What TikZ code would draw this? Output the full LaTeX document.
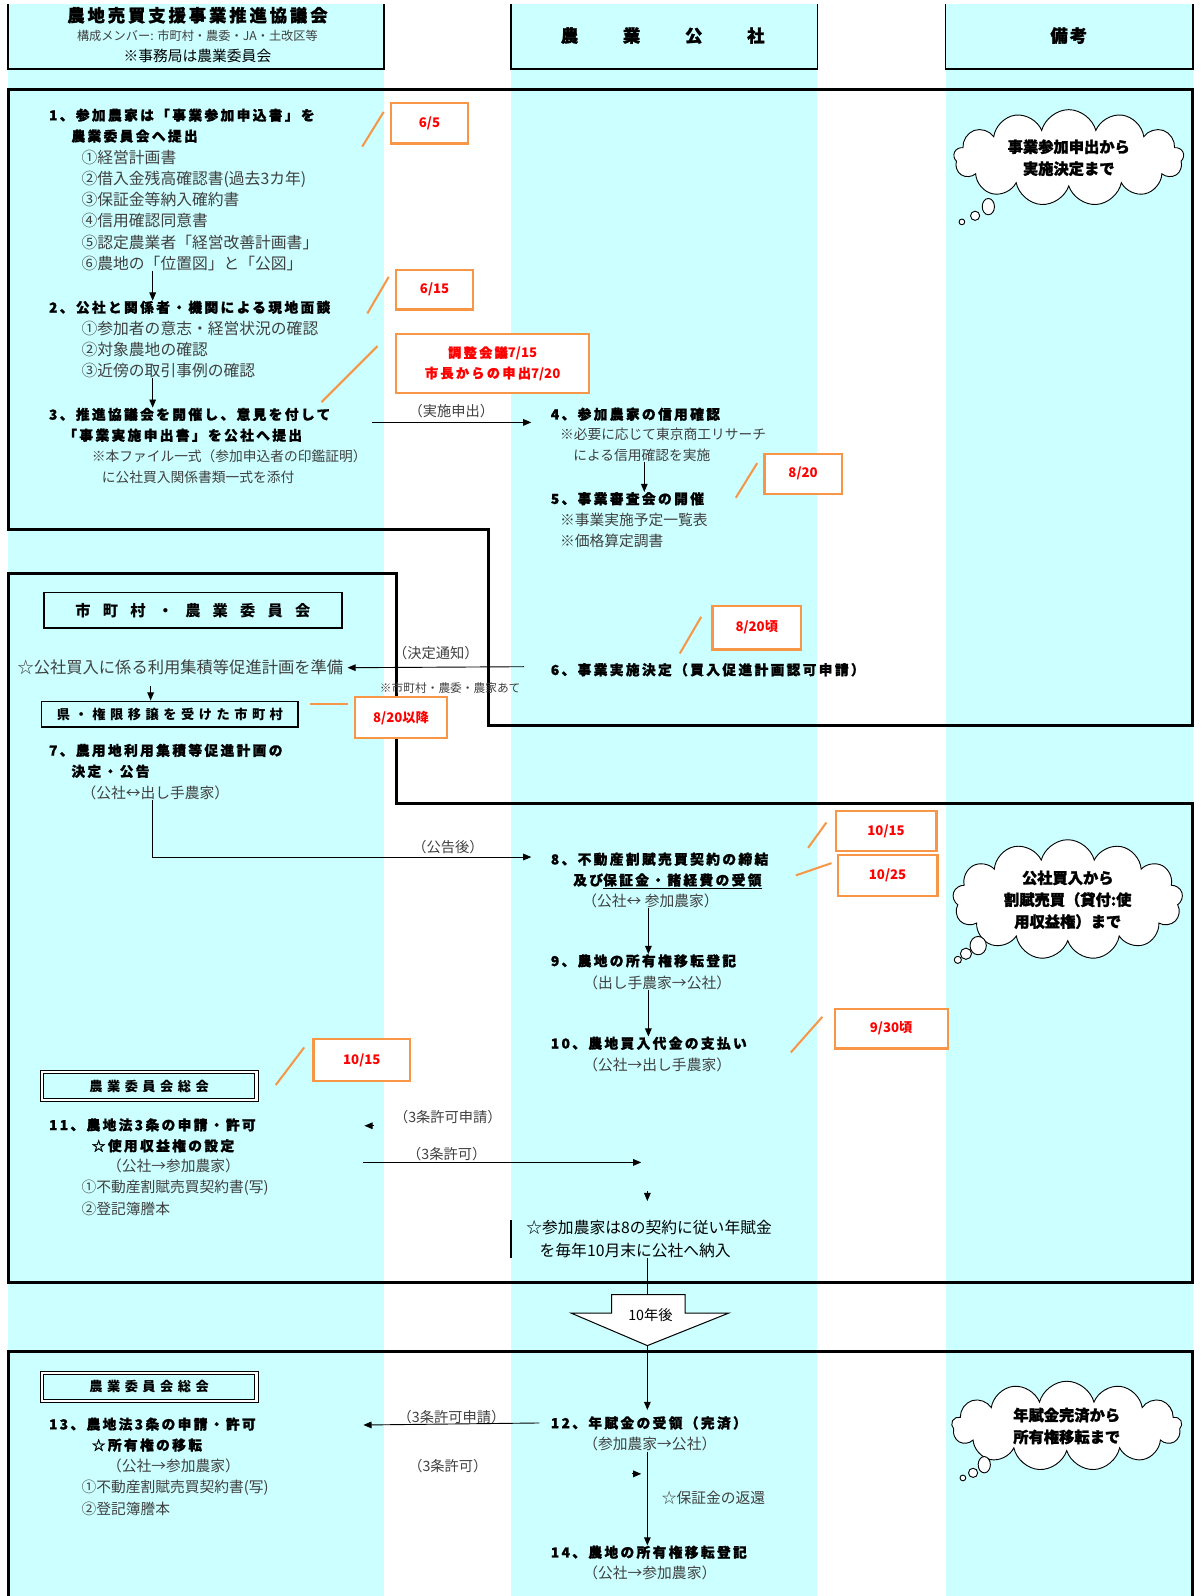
\documentclass[tikz,border=0pt]{standalone}
\usepackage{fontspec}
\setmainfont{Noto Sans CJK JP}
\newfontfamily\jpsp[LetterSpace=17, BoldFeatures={FakeBold=1.2}]{Noto Sans CJK JP}
\newfontfamily\jpmid[LetterSpace=34]{Noto Sans CJK JP}
\newfontfamily\jpwide[LetterSpace=80]{Noto Sans CJK JP}
\newfontfamily\jpheavy[BoldFeatures={FakeBold=1.5}]{Noto Sans CJK JP}
\usetikzlibrary{arrows.meta, positioning, shapes.symbols}
\definecolor{lane}{HTML}{CCFFFF}
\definecolor{dateorange}{HTML}{F79646}
\definecolor{txtgrey}{HTML}{404040}

\begin{document}
\begin{tikzpicture}[x=1pt, y=-1pt,
  frame/.style={line width=3pt},
  hd/.style={anchor=north west, inner sep=0pt, align=left,
             font=\jpsp\bfseries\fontsize{13.5}{20.5}\selectfont},
  hdl/.style={hd, anchor=west},
  sub/.style={anchor=north west, inner sep=0pt, align=left, text=txtgrey,
              font=\fontsize{15.5}{20.8}\selectfont},
  small/.style={sub, font=\fontsize{13.5}{20}\selectfont},
  party/.style={anchor=west, inner sep=0pt, text=txtgrey, font=\fontsize{14.5}{17}\selectfont},
  lbl/.style={inner sep=0pt, text=txtgrey, font=\fontsize{14}{16}\selectfont},
  datebox/.style={draw=dateorange, line width=2.2pt, fill=white, text=red,
                  font=\bfseries\fontsize{13}{20}\selectfont, align=center},
  lead/.style={draw=dateorange, line width=2pt},
  arr/.style={-{Triangle[length=8pt,width=6.5pt]}, line width=0.9pt},
  board/.style={draw, line width=1.5pt, inner sep=0pt},
  think/.style={cloud, draw, line width=0.9pt, fill=white, cloud puffs=13,
                aspect=2.6, align=center, inner sep=0pt,
                font=\jpheavy\bfseries\fontsize{15}{21.5}\selectfont},
  bubble/.style={draw, line width=0.9pt, fill=white}
]
\useasboundingbox (0,0) rectangle (1181,1568);

% lanes
\fill[lane] (8,4) rectangle (377,1568);
\fill[lane] (502,4) rectangle (803,1568);
\fill[lane] (929,4) rectangle (1172,1568);

% column heads
\draw[line width=1.5pt] (8,4) -- (8,68) -- (377,68) -- (377,4);
\draw[line width=1.5pt] (502,4) -- (502,68) -- (803,68) -- (803,4);
\draw[line width=1.5pt] (929,4) -- (929,68) -- (1172,68) -- (1172,4);
\node[font=\jpsp\bfseries\fontsize{17}{19}\selectfont] (council) at (194,15) {農地売買支援事業推進協議会};
\node[text=txtgrey, font=\fontsize{12}{14}\selectfont] (members) at (194,35) {構成メンバー: 市町村・農委・JA・土改区等};
\node[font=\fontsize{14.5}{16}\selectfont] (office) at (194,55) {※事務局は農業委員会};
\node[font=\jpheavy\bfseries\fontsize{17}{19}\selectfont] (corp) at (651,35) {農\hspace{44pt}業\hspace{44pt}公\hspace{44pt}社};
\node[font=\jpheavy\bfseries\fontsize{17}{19}\selectfont] (remarks) at (1050,35) {備\hspace{2pt}考};

% frames
\draw[frame] (8,88) -- (1172,88) -- (1172,713) -- (480,713) -- (480,520) -- (8,520) -- cycle;
\draw[frame] (8,563) -- (390,563) -- (390,789) -- (1172,789) -- (1172,1260) -- (8,1260) -- cycle;
\draw[frame] (8,1568) -- (8,1328) -- (1172,1328) -- (1172,1568);

% application to decision
\node[hd] (step1) at (48,106.5) {1、参加農家は「事業参加申込書」を\\\hspace*{22pt}農業委員会へ提出};
\node[sub] (docs1) at (80,147.2) {①経営計画書\\②借入金残高確認書(過去3カ年)\\③保証金等納入確約書\\④信用確認同意書\\⑤認定農業者「経営改善計画書」\\⑥農地の「位置図」と「公図」};
\node[hdl] (step2) at (48,302) {2、公社と関係者・機関による現地面談};
\node[sub] (docs2) at (80,315.2) {①参加者の意志・経営状況の確認\\②対象農地の確認\\③近傍の取引事例の確認};
\node[hd] (step3) at (48,400.5) {3、推進協議会を開催し、意見を付して\\\hspace*{14pt}「事業実施申出書」を公社へ提出};
\node[small] (file3) at (90,442) {※本ファイル一式（参加申込者の印鑑証明）\\\hspace*{10pt}に公社買入関係書類一式を添付};
\draw[arr] ([xshift=70pt]docs1.south west) -- ([xshift=102pt]step2.north west);
\draw[arr] ([xshift=70pt]docs2.south west) -- ([xshift=102pt]step3.north west);

\node[hdl] (step4) at (541,407) {4、参加農家の信用確認};
\node[small] (check4) at (550,420.5) {※必要に応じて東京商工リサーチ\\\hspace*{13pt}による信用確認を実施};
\node[hdl] (step5) at (541,490) {5、事業審査会の開催};
\node[sub, font=\fontsize{14.5}{21}\selectfont] (list5) at (550,504) {※事業実施予定一覧表\\※価格算定調書};
\draw[arr] ([xshift=83pt]check4.south west) -- ([xshift=92pt]step5.north west);

\coordinate (apply3) at (365,415);
\coordinate (into4) at (522,415);
\draw[arr] (apply3) -- node[above=4pt, lbl]{（実施申出）} (into4);

% city and committee
\node[board, minimum width=293pt, minimum height=35pt,
      font=\jpwide\bfseries\fontsize{15}{17}\selectfont] (city) at (189.5,599.5) {市町村・農業委員会};
\node[anchor=west, inner sep=0pt, text=txtgrey, font=\fontsize{16}{18}\selectfont] (plan) at (17,656) {☆公社買入に係る利用集積等促進計画を準備};
\node[board, minimum width=252pt, minimum height=25pt,
      font=\jpmid\bfseries\fontsize{13}{15}\selectfont] (pref) at (167,701.5) {県・権限移譲を受けた市町村};
\draw[arr, shorten <=10pt] ([xshift=131pt]plan.south west) -- ([xshift=-19pt]pref.north);

\node[hdl] (step6) at (541,658) {6、事業実施決定（買入促進計画認可申請）};
\coordinate (decide6) at (515,655);
\draw[arr] (decide6) -- node[above=7pt, lbl]{（決定通知）}
  node[below=15pt, xshift=14pt, lbl, font=\fontsize{11.5}{13}\selectfont]{※市町村・農委・農家あて} ([xshift=4pt]plan.east);

\node[hd] (step7) at (48,730.5) {7、農用地利用集積等促進計画の\\\hspace*{22pt}決定・公告};
\node[party] (party7) at (80,779) {（公社↔出し手農家）};

\node[hd] (step8) at (541,837.5) {8、不動産割賦売買契約の締結\\\hspace*{22pt}及び\underline{保証金・諸経費の受領}};
\node[party] (party8) at (572,885) {（公社↔ 参加農家）};
\coordinate (into8) at (522,842);
\draw[arr] ([xshift=70pt]party7.south west) |- node[pos=0.89, above=3pt, lbl]{（公告後）} (into8);

\node[hdl] (step9) at (541,944) {9、農地の所有権移転登記};
\node[party] (party9) at (573,966) {（出し手農家→公社）};
\node[hdl] (step10) at (541,1025) {10、農地買入代金の支払い};
\node[party] (party10) at (573,1046) {（公社→出し手農家）};
\draw[arr] ([xshift=65pt]party8.south west) -- ([xshift=96pt]step9.north west);
\draw[arr] ([xshift=64pt]party9.south west) -- ([xshift=96pt]step10.north west);

\node[board, double, double distance=2pt, line width=1pt, minimum width=211pt, minimum height=28pt,
      font=\jpmid\bfseries\fontsize{13}{15}\selectfont] (general1) at (146.5,1067) {農業委員会総会};
\node[hd] (step11) at (48,1098.5) {11、農地法3条の申請・許可\\\hspace*{42pt}☆使用収益権の設定};
\node[party] (party11) at (105,1145) {（公社→参加農家）};
\node[sub, font=\fontsize{14.5}{21.5}\selectfont] (docs11) at (80,1159) {①不動産割賦売買契約書(写)\\②登記簿謄本};

\coordinate (req11) at (367,1106);
\draw[arr] (req11) -- ++(-9,0);
\node[lbl] (req11l) at (440,1097) {（3条許可申請）};
\coordinate (perm11) at (357,1142);
\coordinate (perm11e) at (630,1142);
\draw[arr] (perm11) -- node[pos=0.3, above=1pt, lbl]{（3条許可）} (perm11e);

\coordinate (pay0) at (636,1170);
\draw[arr] (pay0) -- ++(0,10);
\node[anchor=north west, inner sep=0pt, align=left, font=\fontsize{15.5}{22}\selectfont] (annual) at (517,1199) {☆参加農家は8の契約に従い年賦金\\\hspace*{13pt}を毎年10月末に公社へ納入};
\draw[line width=1.5pt] ([xshift=-15pt]annual.north west) -- ([xshift=-15pt]annual.south west);

% ten years later
\draw[line width=1pt, fill=white] (601,1272) -- (673,1272) -- (673,1290) -- (716,1290) -- (636,1322) -- (561,1290) -- (601,1290) -- cycle;
\node[font=\fontsize{14}{16}\selectfont] (tenyr) at (639,1292) {10年後};
\coordinate (bigtop) at (636,1272);
\coordinate (bigtip) at (636,1322);
\draw[line width=0.9pt] ([xshift=119pt]annual.south west) -- (bigtop);

% completion
\node[board, double, double distance=2pt, line width=1pt, minimum width=211pt, minimum height=28pt,
      font=\jpmid\bfseries\fontsize{13}{15}\selectfont] (general2) at (146.5,1362.5) {農業委員会総会};
\node[hd] (step13) at (48,1392.5) {13、農地法3条の申請・許可\\\hspace*{42pt}☆所有権の移転};
\node[party] (party13) at (105,1440) {（公社→参加農家）};
\node[sub, font=\fontsize{14.5}{21.5}\selectfont] (docs13) at (80,1454) {①不動産割賦売買契約書(写)\\②登記簿謄本};

\node[hdl] (step12) at (541,1398) {12、年賦金の受領（完済）};
\node[party] (party12) at (573,1419) {（参加農家→公社）};
\draw[arr, shorten >=6pt] (bigtip) -- ([xshift=95pt]step12.north west);
\coordinate (req13) at (357,1400);
\draw[arr] ([xshift=-11pt]step12.west) -- node[above=0pt, lbl]{（3条許可申請）} (req13);
\node[lbl] (perm13) at (440,1440) {（3条許可）};

\coordinate (ret0) at (621,1448);
\draw[arr] (ret0) -- ++(9,0);
\node[hdl] (step14) at (541,1525) {14、農地の所有権移転登記};
\node[party] (party14) at (573,1545) {（公社→参加農家）};
\draw[arr] ([xshift=63pt]party12.south west) -- ([xshift=95pt]step14.north west);
\node[party] (refund) at (650,1472) {☆保証金の返還};

% dates
\node[datebox, minimum width=76pt, minimum height=40pt] (d65) at (422,121) {6/5};
\node[datebox, minimum width=76pt, minimum height=39pt] (d615) at (427,284.5) {6/15};
\node[datebox, minimum width=190pt, minimum height=58pt] (d715) at (484,357) {{\jpsp 調整会議}7/15\\{\jpsp 市長からの申出}7/20};
\node[datebox, minimum width=76pt, minimum height=39pt] (d820) at (789,465.5) {8/20};
\node[datebox, minimum width=87pt, minimum height=43pt] (d820a) at (743.5,616.5) {8/20頃};
\node[datebox, minimum width=90pt, minimum height=40pt] (d820b) at (394,705) {8/20以降};
\node[datebox, minimum width=99pt, minimum height=39pt] (d1015) at (870.5,816.5) {10/15};
\node[datebox, minimum width=98pt, minimum height=40pt] (d1025) at (872,860) {10/25};
\node[datebox, minimum width=111pt, minimum height=39pt] (d930) at (875.5,1010.5) {9/30頃};
\node[datebox, minimum width=95pt, minimum height=41pt] (d1015b) at (355.5,1041.5) {10/15};
\draw[lead] (d65.west) ++(-6,-11) -- ++(-21,34);
\draw[lead] (d615.west) ++(-6,-12.5) -- ++(-21,36);
\draw[lead] (d715.west) ++(-17,-17) -- ++(-55,55);
\draw[lead] (d820.west) ++(-6,-10.5) -- ++(-21,34);
\draw[lead] (d820a.west) ++(-10,-10.5) -- ++(-21,36);
\draw[lead] (d820b.west) ++(-6,-13) -- ++(-37,0);
\draw[lead] (d1015.west) ++(-8,-8.5) -- ++(-18,25);
\draw[lead] (d1025.west) ++(-5,-12) -- ++(-35,12);
\draw[lead] (d930.west) ++(-11,-11.5) -- ++(-31,35);
\draw[lead] (d1015b.west) ++(-8,-12.5) -- ++(-28,37);

% remarks
\node[think, minimum width=226pt, minimum height=76pt] (note1) at (1050,155) {事業参加申出から\\実施決定まで};
\draw[bubble] (971,203) ellipse (6pt and 8pt);
\draw[bubble] (958,212) circle (4.5pt);
\draw[bubble] (945,218) circle (2.8pt);
\node[think, minimum width=226pt, minimum height=118pt] (note2) at (1049,884) {公社買入から\\割賦売買（貸付:使\\用収益権）まで};
\draw[bubble] (961,929) ellipse (8pt and 9pt);
\draw[bubble] (949,937) circle (5.5pt);
\draw[bubble] (941,943) circle (3.5pt);
\node[think, minimum width=226pt, minimum height=88pt] (note3) at (1048,1401) {年賦金完済から\\所有権移転まで};
\draw[bubble] (967,1439) ellipse (6pt and 8pt);
\draw[bubble] (956,1447) circle (4.5pt);
\draw[bubble] (946,1452) circle (2.8pt);
\end{tikzpicture}
\end{document}
